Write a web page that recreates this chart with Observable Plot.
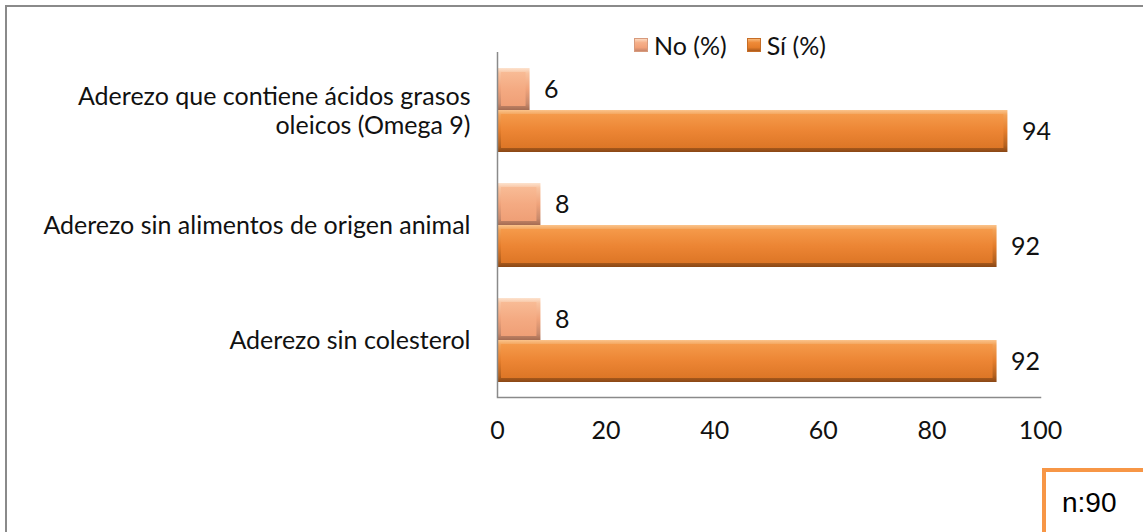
<!DOCTYPE html>
<html><head><meta charset="utf-8">
<script src="https://cdn.jsdelivr.net/npm/d3@7"></script>
<script src="https://cdn.jsdelivr.net/npm/@observablehq/plot@0.6"></script>
<style>
body{margin:0;background:#fff;}
#wrap{position:relative;width:1143px;height:532px;overflow:hidden;background:#fff;font-family:Lato,sans-serif;color:#111;}
#border{position:absolute;left:5px;top:5px;width:1300px;height:700px;border:2px solid #8a8a8a;box-sizing:border-box;}
#chart{position:absolute;left:0;top:0;}
#legend{position:absolute;left:634px;top:31px;display:flex;align-items:center;font-size:25px;line-height:28px;}
.item{display:flex;align-items:center;margin-right:20px;}
.sw{width:14px;height:14px;margin-right:6px;box-sizing:border-box;}
.sw.no{background:linear-gradient(#fcd9bf 0%,#f6b08a 30%,#f2a27a 70%,#c7856a 100%);border:1px solid #d79a7c;}
.sw.si{background:linear-gradient(#f8b878 0%,#ee8a38 30%,#e57d2a 70%,#a9591c 100%);border:1px solid #c66d26;}
#nbox{position:absolute;left:1042px;top:468px;width:200px;height:120px;border:4px solid #F79646;box-sizing:border-box;font-family:"Liberation Sans",Arial,sans-serif;font-size:28px;padding:15px 0 0 16px;color:#000;}
</style>
</head><body>
<div id="wrap">
  <div id="border"></div>
  <div id="chart"></div>
  <div id="legend">
    <div class="item"><div class="sw no"></div><span>No (%)</span></div>
    <div class="item"><div class="sw si"></div><span>Sí (%)</span></div>
  </div>
  <div id="nbox">n:90</div>
</div>
<script>
const categories = [
  "Aderezo que contiene ácidos grasos oleicos (Omega 9)",
  "Aderezo sin alimentos de origen animal",
  "Aderezo sin colesterol"
];
const tickLabels = [
  "Aderezo que contiene ácidos grasos\noleicos (Omega 9)",
  "Aderezo sin alimentos de origen animal",
  "Aderezo sin colesterol"
];
const series = ["No (%)", "Sí (%)"];
const noValues = [6, 8, 8];
const siValues = [94, 92, 92];
const xTicks = [0, 20, 40, 60, 80, 100];

const data = [];
categories.forEach((c, i) => {
  data.push({category: c, series: series[0], value: noValues[i]});
  data.push({category: c, series: series[1], value: siValues[i]});
});
const noData = data.filter(d => d.series === series[0]);
const siData = data.filter(d => d.series === series[1]);
const labelOf = new Map(categories.map((c, i) => [c, tickLabels[i]]));

const chart = Plot.plot({
  width: 1143,
  height: 460,
  marginLeft: 497,
  marginRight: 103,
  marginTop: 52,
  marginBottom: 63,
  style: {fontFamily: "Lato, sans-serif", fontSize: "25px", color: "#111", background: "transparent"},
  x: {domain: [0, 100]},
  fy: {domain: categories, padding: 0},
  y: {domain: series, paddingInner: 0, paddingOuter: 0.35, axis: null},
  marks: [
    Plot.barX(noData, {x: "value", y: "series", fy: "category", fill: "url(#gNo)"}),
    Plot.barX(noData, {x: "value", y: "series", fy: "category", fill: "url(#gNoIn)", inset: 4}),
    Plot.barX(siData, {x: "value", y: "series", fy: "category", fill: "url(#gSi)"}),
    Plot.barX(siData, {x: "value", y: "series", fy: "category", fill: "url(#gSiIn)", inset: 4}),
    Plot.text(data, {x: "value", y: "series", fy: "category", text: d => String(d.value), textAnchor: "start", dx: 14, fontSize: 25, fill: "#111"}),
    Plot.ruleX([0], {stroke: "#8a8a8a", strokeWidth: 1.5}),
    Plot.frame({anchor: "bottom", facet: "super", stroke: "#8a8a8a", strokeWidth: 1.5}),
    Plot.axisX({ticks: xTicks, tickSize: 0, tickPadding: 24, fontSize: 25, label: null}),
    Plot.axisFy({anchor: "left", tickSize: 0, tickPadding: 27, fontSize: 25, lineHeight: 1.16, label: null, tickFormat: c => labelOf.get(c)})
  ]
});

const ns = "http://www.w3.org/2000/svg";
const defs = document.createElementNS(ns, "defs");
function grad(id, stops) {
  const g = document.createElementNS(ns, "linearGradient");
  g.setAttribute("id", id);
  g.setAttribute("x1", "0"); g.setAttribute("y1", "0");
  g.setAttribute("x2", "0"); g.setAttribute("y2", "1");
  stops.forEach(([o, c]) => {
    const s = document.createElementNS(ns, "stop");
    s.setAttribute("offset", o); s.setAttribute("stop-color", c);
    g.appendChild(s);
  });
  defs.appendChild(g);
}
grad("gSi", [["0", "#fbc48c"], ["0.12", "#f2a055"], ["0.5", "#e47d2c"], ["0.85", "#b4611f"], ["1", "#8a4715"]]);
grad("gSiIn", [["0", "#f59a4a"], ["0.5", "#ec8534"], ["1", "#dd7626"]]);
grad("gNo", [["0", "#fde3cf"], ["0.12", "#f8c3a0"], ["0.5", "#f0a37b"], ["0.85", "#c98a6c"], ["1", "#a56c52"]]);
grad("gNoIn", [["0", "#f8bb95"], ["0.5", "#f4aa82"], ["1", "#ef9f76"]]);
chart.insertBefore(defs, chart.firstChild);

document.getElementById("chart").appendChild(chart);
</script>
</body></html>
